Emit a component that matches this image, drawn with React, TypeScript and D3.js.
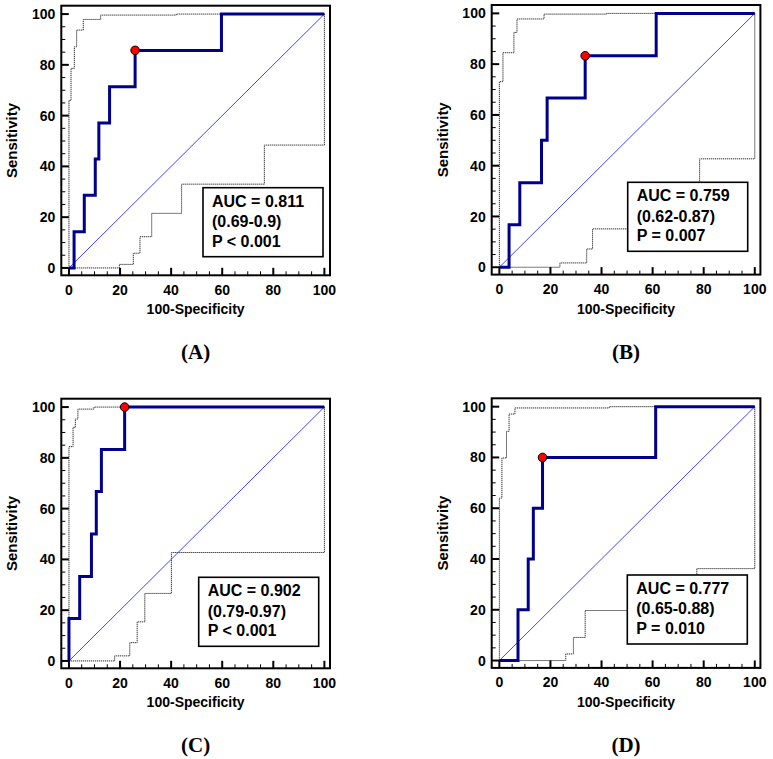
import React from 'react';
import * as d3 from 'd3';

type Pt = [number, number];

// ---- DATA ----
const panelLabels = ['(A)', '(B)', '(C)', '(D)'];
const aucLabels = ['AUC = 0.811', 'AUC = 0.759', 'AUC = 0.902', 'AUC = 0.777'];
const ciLabels = ['(0.69-0.9)', '(0.62-0.87)', '(0.79-0.97)', '(0.65-0.88)'];
const pLabels = ['P < 0.001', 'P = 0.007', 'P < 0.001', 'P = 0.010'];
const xTicks = [0, 20, 40, 60, 80, 100];
const yTicks = [0, 20, 40, 60, 80, 100];
const minorTicks = d3.range(0, 101, 5);
const xTitle = '100-Specificity';
const yTitle = 'Sensitivity';

// ROC step points (100-specificity, sensitivity)
const rocA: Pt[] = [[0, 0], [2, 14.3], [6, 28.6], [10.3, 42.9], [11.7, 57.1], [15.9, 71.4], [25.9, 85.7], [59.7, 100], [100, 100]];
const upperA: Pt[] = [[0, 0], [0, 66], [0.8, 78.6], [2.1, 87.1], [3, 93.7], [5.6, 97.9], [12.4, 99.6], [42, 100], [100, 100]];
const lowerA: Pt[] = [[0, 0], [19.7, 1.4], [25.2, 5.8], [27.8, 12.3], [32.4, 21.5], [44.1, 33], [76.5, 48.4], [100, 100]];
const cutA: Pt = [25.9, 85.7];

const rocB: Pt[] = [[0, 0], [3.8, 16.7], [8, 33.3], [16.5, 50], [18.7, 66.7], [33.6, 83.3], [61.4, 100], [100, 100]];
const upperB: Pt[] = [[0, 0], [0, 73.1], [1.4, 84.5], [5.7, 92.5], [6.9, 97.8], [17.5, 99.7], [42, 100], [100, 100]];
const lowerB: Pt[] = [[0, 0], [23.7, 1.7], [34.2, 7.2], [36.5, 15.1], [78.4, 42.7], [100, 100]];
const cutB: Pt = [33.6, 83.3];

const rocC: Pt[] = [[0, 0], [0, 16.7], [4.2, 33.3], [8.8, 50], [10.7, 66.7], [12.7, 83.3], [21.8, 100], [100, 100]];
const upperC: Pt[] = [[0, 0], [0, 84.4], [1.6, 92], [2.5, 95.3], [3.5, 99.2], [9.8, 100], [100, 100]];
const lowerC: Pt[] = [[0, 0], [17.9, 2], [23.8, 7.2], [26.7, 15.4], [29.7, 26.6], [40.1, 42.7], [100, 100]];
const cutC: Pt = [21.8, 100];

const rocD: Pt[] = [[0, 0], [7.3, 20], [11.3, 40], [13.3, 60], [16.9, 80], [61.2, 100], [100, 100]];
const upperD: Pt[] = [[0, 0], [0, 64], [1, 79.8], [2.8, 90.3], [3.8, 97.1], [6.1, 99.5], [43, 100], [100, 100]];
const lowerD: Pt[] = [[0, 0], [26, 2.6], [29, 9.1], [33.6, 19.7], [77.3, 36.2], [100, 100]];
const cutD: Pt = [16.9, 80];

const diagonal: Pt[] = [[0, 0], [100, 100]];

// ---- LAYOUT ----
const W = 773;
const H = 759;
const FW = 268.7;
const FH = 269.6;
const layouts = [
  { fx: 61.3, fy: 5.7, bx: 141.7, by: 182 },
  { fx: 491.7, fy: 5, bx: 136, by: 177.3 },
  { fx: 61.3, fy: 398.7, bx: 137.4, by: 178.6 },
  { fx: 491.7, fy: 398.3, bx: 135.6, by: 176.7 },
];
const panels = [
  { roc: rocA, upper: upperA, lower: lowerA, cut: cutA },
  { roc: rocB, upper: upperB, lower: lowerB, cut: cutB },
  { roc: rocC, upper: upperC, lower: lowerC, cut: cutC },
  { roc: rocD, upper: upperD, lower: lowerD, cut: cutD },
];

const SANS = '"Liberation Sans", Arial, Helvetica, sans-serif';
const SERIF = '"Liberation Serif", "DejaVu Serif", "Times New Roman", serif';

function Panel({ i }: { i: number }) {
  const L = layouts[i];
  const P = panels[i];
  const x = d3.scaleLinear().domain([-3, 102.2]).range([0, FW]);
  const y = d3.scaleLinear().domain([-2.9, 103.3]).range([FH, 0]);
  const step = d3.line<Pt>().x((d) => x(d[0])).y((d) => y(d[1])).curve(d3.curveStepAfter);
  const straight = d3.line<Pt>().x((d) => x(d[0])).y((d) => y(d[1]));
  const boxW = 120;
  const boxH = 69;
  return (
    <g transform={`translate(${L.fx},${L.fy})`}>
      <path d={step(P.upper) || ''} fill="none" stroke="#333" strokeWidth={1} strokeDasharray="1.3,0.7" />
      <path d={step(P.lower) || ''} fill="none" stroke="#333" strokeWidth={1} strokeDasharray="1.3,0.7" />
      <path d={straight(diagonal) || ''} fill="none" stroke="#4444ff" strokeWidth={1} />
      <path d={step(P.roc) || ''} fill="none" stroke="#00008c" strokeWidth={3} strokeLinejoin="miter" />
      <circle cx={x(P.cut[0])} cy={y(P.cut[1])} r={4.3} fill="#ff0000" stroke="#000" strokeWidth={1} />
      <rect x={L.bx} y={L.by} width={boxW} height={boxH} fill="#fff" stroke="#000" strokeWidth={1.6} />
      <g fontFamily={SANS} fontWeight="bold" fontSize={16} fill="#000">
        <text x={L.bx + 9} y={L.by + 19}>{aucLabels[i]}</text>
        <text x={L.bx + 9} y={L.by + 39.5}>{ciLabels[i]}</text>
        <text x={L.bx + 9} y={L.by + 59}>{pLabels[i]}</text>
      </g>
      {/* minor ticks */}
      {minorTicks.filter((t) => t % 20 !== 0).map((t) => (
        <g key={'m' + t}>
          <line x1={0} x2={4} y1={y(t)} y2={y(t)} stroke="#000" strokeWidth={1} />
          <line x1={x(t)} x2={x(t)} y1={FH} y2={FH - 4} stroke="#000" strokeWidth={1} />
        </g>
      ))}
      {yTicks.map((t) => (
        <g key={'y' + t}>
          <line x1={0} x2={7.5} y1={y(t)} y2={y(t)} stroke="#000" strokeWidth={2} />
          <text x={-6} y={y(t)} dy="0.36em" textAnchor="end" fontFamily={SANS} fontWeight="bold" fontSize={14}>{t}</text>
        </g>
      ))}
      {xTicks.map((t) => (
        <g key={'x' + t}>
          <line x1={x(t)} x2={x(t)} y1={FH} y2={FH - 7.5} stroke="#000" strokeWidth={2} />
          <text x={x(t)} y={FH + 19.5} textAnchor="middle" fontFamily={SANS} fontWeight="bold" fontSize={14}>{t}</text>
        </g>
      ))}
      <rect x={0} y={0} width={FW} height={FH} fill="none" stroke="#000" strokeWidth={2} />
      <text transform={`translate(${-44},${FH / 2}) rotate(-90)`} textAnchor="middle" fontFamily={SANS} fontWeight="bold" fontSize={15}>{yTitle}</text>
      <text x={FW / 2} y={FH + 39} textAnchor="middle" fontFamily={SANS} fontWeight="bold" fontSize={14}>{xTitle}</text>
      <text x={FW / 2} y={FH + 84} textAnchor="middle" fontFamily={SERIF} fontWeight="bold" fontSize={21}>{panelLabels[i]}</text>
    </g>
  );
}

export default function App() {
  return (
    <svg width={W} height={H} viewBox={`0 0 ${W} ${H}`} style={{ position: 'absolute', left: 0, top: 0, background: '#fff' }}>
      <rect width={W} height={H} fill="#fff" />
      {[0, 1, 2, 3].map((i) => (
        <Panel key={i} i={i} />
      ))}
    </svg>
  );
}
